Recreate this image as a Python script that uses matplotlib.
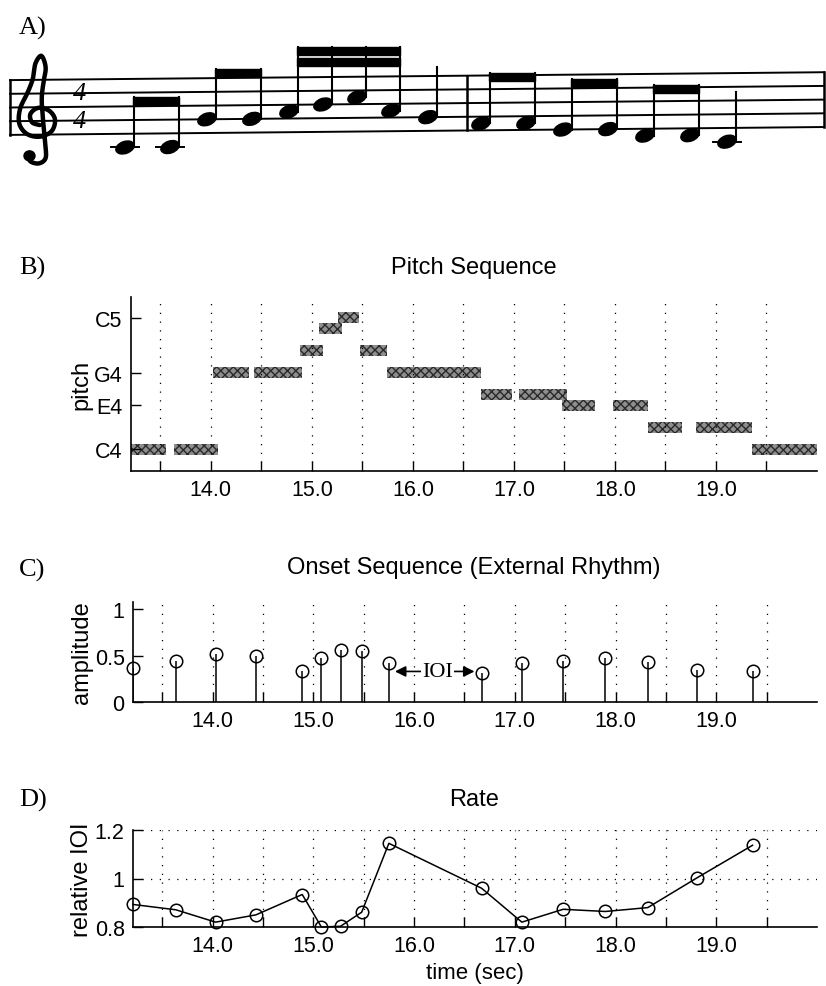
import numpy as np
import matplotlib
matplotlib.use("Agg")
import matplotlib.pyplot as plt
from matplotlib.patches import Rectangle, Ellipse

# score: note names and beam groups (first, last, number of beams)
score_notes = ['C4', 'C4', 'G4', 'G4', 'A4', 'B4', 'C5', 'A4', 'G4',
               'F4', 'F4', 'E4', 'E4', 'D4', 'D4', 'C4']
score_groups = [(0, 1, 1), (2, 3, 1), (4, 7, 2), (8, 8, 0),
                (9, 10, 1), (11, 12, 1), (13, 14, 1), (15, 15, 0)]
bar_after = 8

# pitch track (midi numbers, start/end in sec)
note_pitch = [60, 60, 67, 67, 69, 71, 72, 69, 67, 65, 65, 64, 64, 62, 62, 60]
note_on = [13.21, 13.64, 14.02, 14.43, 14.88, 15.07, 15.26, 15.48,
           15.74, 16.67, 17.05, 17.48, 17.98, 18.33, 18.80, 19.36]
note_off = [13.56, 14.07, 14.38, 14.90, 15.11, 15.30, 15.47, 15.74,
            16.67, 16.98, 17.53, 17.80, 18.33, 18.66, 19.36, 20.0]
pitch_ticks = [60, 64, 67, 72]
pitch_labels = ['C4', 'E4', 'G4', 'C5']

# onsets
onset_time = [13.21, 13.635, 14.03, 14.43, 14.89, 15.08, 15.27, 15.48,
              15.75, 16.67, 17.07, 17.48, 17.90, 18.32, 18.81, 19.36]
amplitude = [0.37, 0.44, 0.52, 0.50, 0.33, 0.47, 0.56, 0.55,
             0.42, 0.31, 0.42, 0.44, 0.47, 0.43, 0.35, 0.33]
rel_ioi = [0.893, 0.871, 0.82, 0.85, 0.934, 0.80, 0.803, 0.861,
           1.145, 0.96, 0.82, 0.873, 0.864, 0.88, 1.003, 1.137]

t_min, t_max = 13.21, 20.0
major = np.arange(13.5, 20.0, 0.5)
labels = ['%.1f' % t if abs(t - round(t)) < 1e-6 else '' for t in major]

sans = ['Liberation Sans', 'DejaVu Sans']
serif = ['Liberation Serif', 'DejaVu Serif']
plt.rcParams['font.family'] = sans
plt.rcParams['font.size'] = 15
plt.rcParams['hatch.linewidth'] = 1.0

W, H = 826, 987
fig = plt.figure(figsize=(W / 100, H / 100), dpi=100)


def time_axis(ax):
    ax.set_xlim(t_min, t_max)
    ax.set_xticks(major)
    ax.set_xticklabels(labels)
    ax.tick_params(direction='in', length=7, width=1, labelsize=15.5, pad=6)
    ax.grid(True, axis='x', color='k', linestyle=(0, (1, 6)), linewidth=0.9)
    for s in ['top', 'right']:
        ax.spines[s].set_visible(False)
    for s in ['left', 'bottom']:
        ax.spines[s].set_linewidth(1.2)


def box(px_left, px_top, px_right, px_bottom):
    return [px_left / W, 1 - px_bottom / H, (px_right - px_left) / W,
            (px_bottom - px_top) / H]


def title(text, px_y):
    fig.text(474 / W, 1 - px_y / H, text, fontsize=17, ha='center', va='center')


def panel_label(text, px_y):
    fig.text(19 / W, 1 - px_y / H, text, family=serif, fontsize=19, va='center')


def catmull(pts, n=14):
    pts = np.asarray(pts, dtype=float)
    P = np.vstack([pts[0], pts, pts[-1]])
    out = []
    for i in range(1, len(P) - 2):
        p0, p1, p2, p3 = P[i - 1], P[i], P[i + 1], P[i + 2]
        for t in np.linspace(0, 1, n, endpoint=False):
            out.append(0.5 * (2 * p1 + (p2 - p0) * t
                              + (2 * p0 - 5 * p1 + 4 * p2 - p3) * t ** 2
                              + (3 * p1 - p0 - 3 * p2 + p3) * t ** 3))
    out.append(P[-2])
    return np.array(out)


# ---- A) staff ----
axA = fig.add_axes([0, 1 - 200 / H, 1, 200 / H])
axA.set_xlim(0, W)
axA.set_ylim(200, 0)
axA.axis('off')

space = 13.7
tilt = -8.0 / W


def line_y(k, x):
    # k = 0 bottom line ... 4 top line
    return 136 - k * space + tilt * x


steps = {'C': 0, 'D': 1, 'E': 2, 'F': 3, 'G': 4, 'A': 5, 'B': 6}


def note_y(name, x):
    idx = steps[name[0]] + 7 * (int(name[1]) - 4)
    return line_y(0, x) - (idx - 2) * space / 2


for k in range(5):
    axA.plot([10, 824], [line_y(k, 10), line_y(k, 824)], color='k', lw=1.4)
axA.plot([10, 10], [line_y(0, 10), line_y(4, 10)], color='k', lw=1.8)
axA.plot([824, 824], [line_y(0, 824), line_y(4, 824)], color='k', lw=1.8)

# treble clef outline, in staff spaces around the G line
clef_pts = [(-0.55, -2.5), (-0.45, -2.95), (0.05, -3.1), (0.45, -2.7),
            (0.42, -1.6), (0.3, 0.0), (0.22, 1.6), (0.32, 2.8), (0.45, 3.9),
            (0.2, 4.75), (-0.15, 4.2), (-0.3, 3.1), (-0.6, 2.1), (-1.05, 0.9),
            (-1.1, -0.2), (-0.65, -0.95), (0.1, -1.15), (0.8, -0.75),
            (1.0, 0.1), (0.65, 0.75), (0.0, 0.95), (-0.45, 0.5),
            (-0.35, -0.1), (0.1, -0.3)]
cx, gy = 38, line_y(1, 38)
cp = catmull(clef_pts)
axA.plot(cx + cp[:, 0] * 17, gy - cp[:, 1] * space, color='k', lw=3.2,
         solid_capstyle='round')
axA.add_patch(Ellipse((cx - 0.5 * 17, gy + 2.55 * space), 11, 10, color='k'))

axA.text(80, line_y(3, 80), '4', fontsize=19, family=serif, style='italic',
         ha='center', va='center')
axA.text(80, line_y(1, 80), '4', fontsize=19, family=serif, style='italic',
         ha='center', va='center')

# horizontal layout of note heads
xs = []
x = 125
for a, b, nb in score_groups:
    step = 34 if nb == 2 else 45
    for i in range(a, b + 1):
        xs.append(x)
        if i < b:
            x += step
    if b == bar_after:
        bar_x = x + 39
        x = bar_x + 14
    else:
        x += 37
axA.plot([bar_x, bar_x], [line_y(0, bar_x), line_y(4, bar_x)], color='k', lw=1.8)

ys = [note_y(n, xx) for n, xx in zip(score_notes, xs)]
hw, hh = 19, 12
for n, xx, yy in zip(score_notes, xs, ys):
    axA.add_patch(Ellipse((xx, yy), hw, hh, angle=-20, color='k'))
    if n == 'C4':
        axA.plot([xx - 14, xx + 14], [yy, yy], color='k', lw=1.4)

stem_len = 50
for a, b, nb in score_groups:
    sx = [xs[i] + hw / 2 - 1 for i in range(a, b + 1)]
    sy = [ys[i] for i in range(a, b + 1)]
    if nb == 0:
        axA.plot([sx[0], sx[0]], [sy[0], sy[0] - stem_len], color='k', lw=1.5)
        continue
    top = min(sy) - stem_len
    for xx, yy in zip(sx, sy):
        axA.plot([xx, xx], [yy, top], color='k', lw=1.5)
    for k in range(nb):
        yb = top + k * 11
        axA.add_patch(Rectangle((sx[0] - 0.5, yb), sx[-1] - sx[0] + 1.2, 8, color='k'))

panel_label('A)', 28)

# ---- B) pitch sequence ----
axB = fig.add_axes(box(131, 298, 817, 472))
for p, a, b in zip(note_pitch, note_on, note_off):
    axB.add_patch(Rectangle((a, p - 0.5), b - a, 1.0, facecolor='#8e8e8e',
                            edgecolor='#2a2a2a', hatch='xxxx', linewidth=0))
axB.set_ylim(58, 73.9)
axB.set_yticks(pitch_ticks)
axB.set_yticklabels(pitch_labels)
axB.set_ylabel('pitch', fontsize=17, labelpad=1)
time_axis(axB)
title('Pitch Sequence', 268)
panel_label('B)', 268)

# ---- C) onsets ----
axC = fig.add_axes(box(133, 603, 817, 703))
axC.vlines(onset_time, 0, amplitude, color='k', lw=1.1)
axC.plot(onset_time, amplitude, 'o', mfc='none', mec='k', ms=9, mew=1.1, clip_on=False)
axC.set_ylim(0, 1.08)
axC.set_yticks([0, 0.5, 1])
axC.set_yticklabels(['0', '0.5', '1'])
axC.set_ylabel('amplitude', fontsize=17, labelpad=1)
time_axis(axC)
title('Onset Sequence (External Rhythm)', 568)
ioi_y = 0.33
axC.annotate('', xy=(onset_time[8] + 0.06, ioi_y), xytext=(onset_time[9] - 0.07, ioi_y),
             arrowprops=dict(arrowstyle='<|-|>', color='k', lw=1.2, mutation_scale=16,
                             shrinkA=0, shrinkB=0))
axC.text((onset_time[8] + onset_time[9]) / 2 + 0.02, ioi_y, 'IOI', family=serif,
         fontsize=16, ha='center', va='center',
         bbox=dict(facecolor='white', edgecolor='none', pad=1))
panel_label('C)', 570)

# ---- D) rate ----
axD = fig.add_axes(box(133, 831, 817, 928))
axD.plot(onset_time, rel_ioi, '-o', color='k', mfc='none', mec='k', ms=9, mew=1.1,
         lw=1.1, clip_on=False)
axD.set_ylim(0.8, 1.2)
axD.set_yticks([0.8, 1.0, 1.2])
axD.set_yticklabels(['0.8', '1', '1.2'])
axD.set_ylabel('relative IOI', fontsize=17, labelpad=1)
time_axis(axD)
axD.grid(True, axis='y', color='k', linestyle=(0, (1, 6)), linewidth=0.9)
axD.set_xlabel('time (sec)', fontsize=16, labelpad=4)
title('Rate', 800)
panel_label('D)', 800)

fig.savefig('out.png', dpi=100)
